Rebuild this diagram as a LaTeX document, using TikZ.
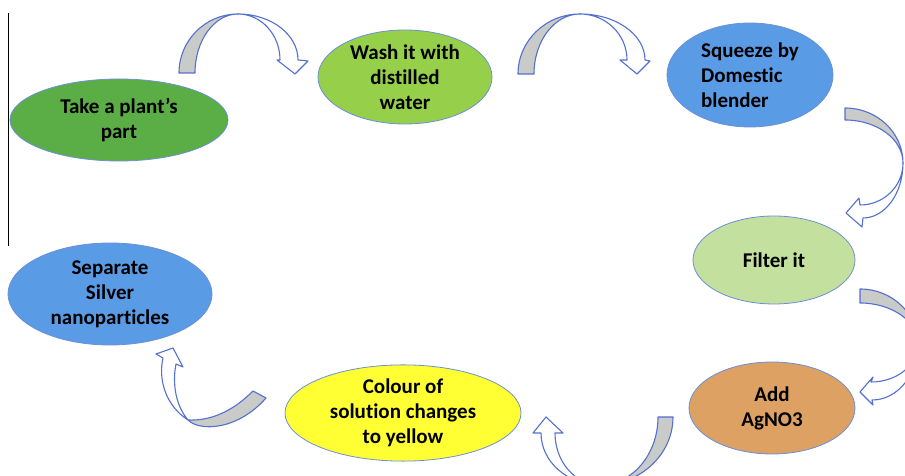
\documentclass[tikz,border=0pt]{standalone}
\usepackage{fontspec}
\setmainfont{Carlito}[Ligatures={NoCommon,NoRequired,NoContextual}]
\usetikzlibrary{shapes.geometric}
\definecolor{cGreen}{HTML}{5AAE45}
\definecolor{cLime}{HTML}{96D04A}
\definecolor{cBlue}{HTML}{5A9BE6}
\definecolor{cPale}{HTML}{C4E09E}
\definecolor{cOrange}{HTML}{DDA163}
\definecolor{cYellow}{HTML}{FFFF33}
\definecolor{cEdge}{HTML}{6C8FD6}
\definecolor{cArrow}{HTML}{5470D0}
\definecolor{cGray}{HTML}{C9CBC8}
\tikzset{
  stepell/.style={ellipse, draw=cEdge, line width=0.8pt, inner sep=0pt,
    font=\fontsize{21}{25}\selectfont\bfseries, text=black, align=center},
  grayband/.style={fill=cGray, draw=cArrow, line width=1.1pt, line join=round},
  whiteband/.style={fill=white, draw=cArrow, line width=1.1pt, line join=round},
}
\begin{document}
\begin{tikzpicture}[x=1pt,y=1pt]
\useasboundingbox (0,0) rectangle (905,476);
\clip (0,0) rectangle (905,476);
\fill[white] (0,0) rectangle (905,476);

% vertical rule at left
\coordinate (ruleTop) at (8,463);
\coordinate (ruleBot) at (8,230);
\draw[black, line width=0.8pt] (ruleTop) -- (ruleBot);

% nodes
\node[stepell, fill=cGreen, minimum width=218pt, minimum height=82pt] (n1) at (119,356) {Take a plant’s\\part};
\node[stepell, fill=cLime, minimum width=174pt, minimum height=94pt] (n2) at (405,399) {Wash it with\\distilled\\water};
\node[stepell, fill=cBlue, minimum width=166pt, minimum height=104pt, align=left] (n3) at (750,401) {Squeeze by\\Domestic\\blender};
\node[stepell, fill=cPale, minimum width=162pt, minimum height=88pt] (n4) at (774,216) {Filter it};
\node[stepell, fill=cOrange, minimum width=166pt, minimum height=92pt] (n5) at (772,68) {Add\\AgNO3};
\node[stepell, fill=cYellow, minimum width=236pt, minimum height=96pt] (n6) at (403,63) {Colour of\\solution changes\\to yellow};
\node[stepell, fill=cBlue, minimum width=204pt, minimum height=102pt] (n7) at (110,182) {Separate\\Silver\\nanoparticles};

% arrow 1 : n1 -> n2
\draw[whiteband] (238,462) arc[start angle=90,end angle=0,x radius=60,y radius=46]
  -- (308,415) -- (295,402) -- (277,416) -- (280,416)
  arc[start angle=0,end angle=90,x radius=42,y radius=46] -- cycle;
\draw[grayband] (179,403) arc[start angle=180,end angle=90,x radius=59,y radius=59]
  arc[start angle=90,end angle=180,x radius=43,y radius=59] -- cycle;

% arrow 2 : n2 -> n3
\draw[whiteband] (580,462) arc[start angle=90,end angle=0,x radius=65,y radius=46]
  -- (650,415) -- (637,402) -- (620,416) -- (627,416)
  arc[start angle=0,end angle=90,x radius=47,y radius=46] -- cycle;
\draw[grayband] (518,402) arc[start angle=180,end angle=90,x radius=62,y radius=60]
  arc[start angle=90,end angle=180,x radius=46,y radius=60] -- cycle;

% arrow 3 : n3 -> n4
\draw[grayband] (845,368) arc[start angle=90,end angle=0,x radius=58,y radius=55]
  arc[start angle=0,end angle=90,x radius=58,y radius=43] -- cycle;
\draw[whiteband] (903,313) arc[start angle=0,end angle=-90,x radius=40,y radius=55]
  -- (862,249) -- (846,263) -- (859,278) -- (860,271)
  arc[start angle=-90,end angle=0,x radius=43,y radius=42] -- cycle;

% arrow 4 : n4 -> n5
\draw[grayband] (860,187) arc[start angle=90,end angle=0,x radius=58,y radius=55]
  arc[start angle=0,end angle=90,x radius=58,y radius=41] -- cycle;
\draw[whiteband] (918,132) arc[start angle=0,end angle=-90,x radius=46,y radius=56]
  -- (873,71) -- (860,84) -- (873,99) -- (871,94)
  arc[start angle=-90,end angle=0,x radius=47,y radius=38] -- cycle;

% arrow 5 : n5 -> n6
\draw[grayband] (673,59) arc[start angle=0,end angle=-90,x radius=73,y radius=68]
  arc[start angle=-90,end angle=0,x radius=58,y radius=68] -- cycle;
\draw[whiteband] (600,-9) arc[start angle=-90,end angle=-180,x radius=59,y radius=52]
  -- (533,43) -- (546,59) -- (563,43) -- (555,43)
  arc[start angle=180,end angle=270,x radius=45,y radius=52] -- cycle;

% arrow 6 : n6 -> n7
\draw[grayband] (253,85) .. controls (232,64) and (210,55) .. (188,56)
  .. controls (200,44) and (238,46) .. (266,78) -- cycle;
\draw[whiteband] (188,56) .. controls (166,70) and (158,96) .. (163,118)
  -- (156,122) -- (173,128) -- (183,109) -- (176,112)
  .. controls (172,92) and (176,70) .. (188,56) -- cycle;
\end{tikzpicture}
\end{document}
